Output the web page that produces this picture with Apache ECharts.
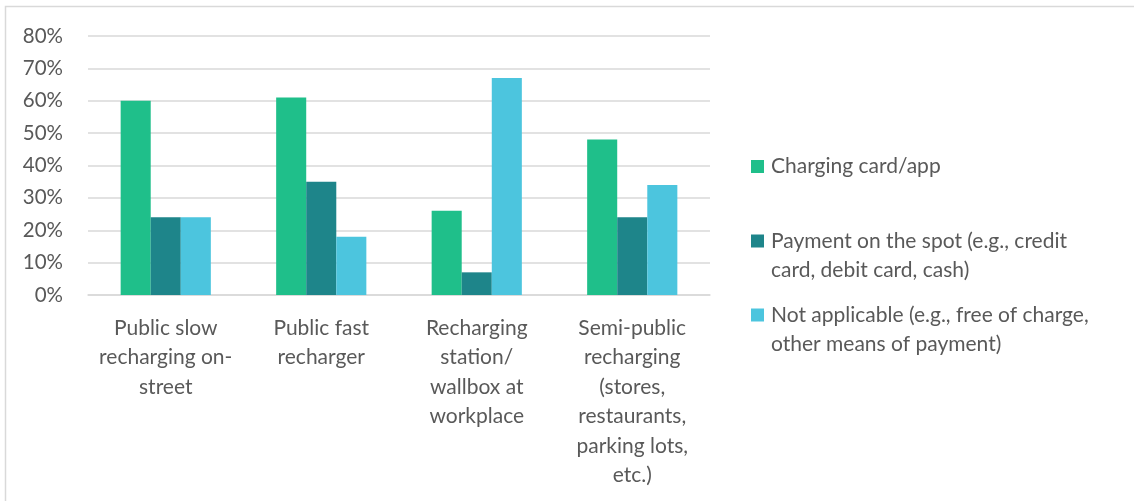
<!DOCTYPE html>
<html>
<head>
<meta charset="utf-8">
<script src="https://cdn.jsdelivr.net/npm/echarts@6/dist/echarts.min.js"></script>
<style>
html,body{margin:0;padding:0;background:#fff;}
#chart{width:1134px;height:501px;}
</style>
</head>
<body>
<div id="chart"></div>
<script>
const categories = [
  'Public slow\nrecharging on-\nstreet',
  'Public fast\nrecharger',
  'Recharging\nstation/\nwallbox at\nworkplace',
  'Semi-public\nrecharging\n(stores,\nrestaurants,\nparking lots,\netc.)'
];
const seriesNames = [
  'Charging card/app',
  'Payment on the spot (e.g., credit card, debit card, cash)',
  'Not applicable (e.g., free of charge, other means of payment)'
];
const legendLabels = [
  'Charging card/app',
  '\nPayment on the spot (e.g., credit\ncard, debit card, cash)',
  '\nNot applicable (e.g., free of charge,\nother means of payment)'
];
const chargingCard = [60, 61, 26, 48];
const paymentSpot = [24, 35, 7, 24];
const notApplicable = [24, 18, 67, 34];
const colors = ['#1FBF8A', '#1E858A', '#4CC5DE'];

const font = "Lato, 'Open Sans', sans-serif";
const textColor = '#595959';
const chart = echarts.init(document.getElementById('chart'));
const data = [chargingCard, paymentSpot, notApplicable];
const legendTops = [152, 197.5, 271.5];
chart.setOption({
  animation: false,
  color: colors,
  graphic: [{
    type: 'polyline',
    shape: { points: [[5.5, 501], [5.5, 6.5], [1134, 6.5]] },
    style: { stroke: '#D9D9D9', fill: null, lineWidth: 1.5 }
  }],
  grid: { left: 88, right: 424, top: 36, bottom: 206 },
  legend: seriesNames.map((n, i) => ({
    orient: 'vertical',
    left: 751,
    top: legendTops[i],
    padding: 0,
    itemWidth: 13,
    itemHeight: 13,
    icon: 'rect',
    data: [n],
    formatter: function (name) { return legendLabels[seriesNames.indexOf(name)]; },
    textStyle: { fontFamily: font, fontSize: 21, color: textColor, lineHeight: 29, padding: [0, 0, 0, 2] }
  })),
  xAxis: {
    type: 'category',
    data: categories,
    axisLine: { lineStyle: { color: '#D9D9D9', width: 1.5 } },
    axisTick: { show: false },
    axisLabel: { fontFamily: font, fontSize: 21, color: textColor, lineHeight: 29.5, margin: 18, interval: 0 }
  },
  yAxis: {
    type: 'value',
    min: 0, max: 80, interval: 10,
    axisLine: { show: false },
    axisTick: { show: false },
    splitLine: { lineStyle: { color: '#D9D9D9', width: 1.5 } },
    axisLabel: { fontFamily: font, fontSize: 20.5, color: textColor, margin: 25, formatter: v => v + '%' }
  },
  series: seriesNames.map((n, i) => ({
    name: n,
    type: 'bar',
    data: data[i],
    barGap: '0%',
    barCategoryGap: '42%',
    itemStyle: { color: colors[i] }
  }))
});
</script>
</body>
</html>
